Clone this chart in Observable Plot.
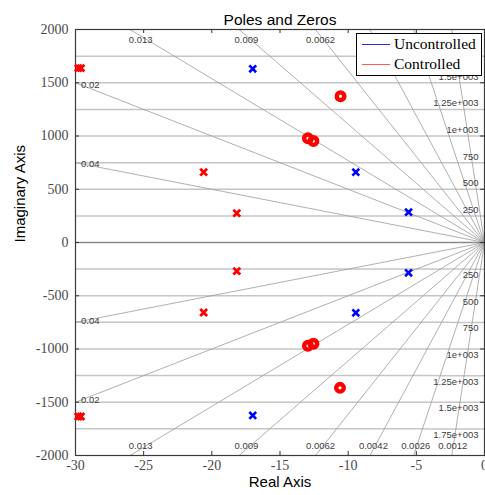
<!DOCTYPE html>
<html><head><meta charset="utf-8">
<script src="https://cdn.jsdelivr.net/npm/d3@7"></script>
<script src="https://cdn.jsdelivr.net/npm/@observablehq/plot@0.6"></script>
<style>
body{margin:0;background:#fff;}
#wrap{position:relative;width:485px;height:495px;overflow:hidden;}
#legend{position:absolute;left:356px;top:33px;width:124px;height:41px;border:1.5px solid #000;background:#fff;
 font-family:"Liberation Serif","Times New Roman",serif;font-size:15.5px;color:#000;}
#legend .ln{position:absolute;left:5px;width:28px;height:1.3px;}
#legend .tx{position:absolute;left:37px;line-height:18px;white-space:nowrap;}
</style></head>
<body><div id="wrap"></div>
<script>
const title = "Poles and Zeros";
const xLabel = "Real Axis";
const yLabel = "Imaginary Axis";
const xTicks = [-30, -25, -20, -15, -10, -5, 0];
const yTicks = [-2000, -1500, -1000, -500, 0, 500, 1000, 1500, 2000];
const seriesNames = ["Uncontrolled", "Controlled"];
const seriesColors = ["#0000ff", "#ff0000"];

// Uncontrolled poles (blue x)
const uncPolesRe = [-17.0, -17.0, -9.44, -9.44, -5.57, -5.57];
const uncPolesIm = [1631, -1624, 660, -660, 285, -285];
// Controlled poles (red x)
const ctlPolesRe = [-29.8, -29.6, -29.8, -29.6, -20.6, -20.6, -18.17, -18.17];
const ctlPolesIm = [1638, 1638, -1634, -1634, 660, -657, 275, -269];
// Controlled zeros (red o)
const ctlZerosRe = [-10.56, -12.95, -12.55, -12.95, -12.55, -10.6];
const ctlZerosIm = [1374, 978, 952, -970, -951, -1365];

// s-plane grid
const dampingValues = [0.0012, 0.0026, 0.0042, 0.0062, 0.009, 0.013, 0.02, 0.04];
const dampingLabels = ["0.0012", "0.0026", "0.0042", "0.0062", "0.009", "0.013", "0.02", "0.04"];
const wnValues = [250, 500, 750, 1000, 1250, 1500, 1750];
const wnLabels = ["250", "500", "750", "1e+003", "1.25e+003", "1.5e+003", "1.75e+003"];

const xDomain = [-30, 0], yDomain = [-2000, 2000];
const W = 485, H = 495, mL = 75, mR = 1, mT = 29, mB = 40;
const frameW = W - mL - mR, frameH = H - mT - mB;
// legend box in pixels (labels fully under it are hidden, as in the reference)
const legBox = {left: 356, top: 33, right: 482, bottom: 77};
const xs = d3.scaleLinear(xDomain, [mL, W - mR]);
const ys = d3.scaleLinear(yDomain, [H - mB, mT]);
const hidden = (x, y) => {
  const px = xs(x), py = ys(y);
  return px > legBox.left - 2 && px < legBox.right + 8 && py > legBox.top && py < legBox.bottom - 6;
};

// damping rays
const rays = [];
dampingValues.forEach(z => {
  const R = 5000, s = Math.sqrt(1 - z * z);
  rays.push({x2: -z * R, y2: s * R});
  rays.push({x2: -z * R, y2: -s * R});
});
// natural frequency arcs
const arcs = [];
wnValues.forEach(w => {
  [1, -1].forEach(sg => {
    for (let i = 0; i <= 30; i++) {
      const x = -30 + i;
      arcs.push({key: w + "_" + sg, x, y: sg * Math.sqrt(w * w - x * x)});
    }
  });
});
// damping labels
const dLab = [];
dampingValues.forEach((z, i) => {
  const s = Math.sqrt(1 - z * z);
  const yLeft = 30 * s / z;
  [1, -1].forEach(sg => {
    if (yLeft < 1900) {
      const xl = -29.6;
      dLab.push({x: xl, y: sg * (-xl) * s / z, t: dampingLabels[i], la: "middle"});
    } else {
      const yl = 1940;
      dLab.push({x: -z * yl / s, y: sg * yl, t: dampingLabels[i], la: sg > 0 ? "top" : "bottom"});
    }
  });
});
const dLabVis = dLab.filter(d => !hidden(d.x, d.la === "top" ? 1860 : d.y));
const wLabPos = wnValues.map((w, i) => ({y: w, t: wnLabels[i]})).filter(d => !hidden(-0.5, d.y + 60));
const wLabNeg = wnValues.map((w, i) => ({y: -w, t: wnLabels[i]}));

const uncPoles = uncPolesRe.map((x, i) => ({x, y: uncPolesIm[i]}));
const ctlPoles = ctlPolesRe.map((x, i) => ({x, y: ctlPolesIm[i]}));
const ctlZeros = ctlZerosRe.map((x, i) => ({x, y: ctlZerosIm[i]}));

const sans = "Liberation Sans, Arial, sans-serif";
const serif = "Liberation Serif, Times New Roman, serif";
const gridLab = "#3c3c3c";
const fmt = d => String(d);

const chart = Plot.plot({
  width: W, height: H,
  marginLeft: mL, marginRight: mR, marginTop: mT, marginBottom: mB,
  style: {fontFamily: serif, background: "#fff", overflow: "visible"},
  x: {domain: xDomain, label: null},
  y: {domain: yDomain, label: null},
  marks: [
    Plot.line(arcs, {x: "x", y: "y", z: "key", stroke: "#c6c6c6", strokeWidth: 1.5, clip: true}),
    Plot.link(rays, {x1: 0, y1: 0, x2: "x2", y2: "y2", stroke: "#9c9c9c", strokeWidth: 0.8, clip: true}),
    Plot.ruleY([0], {stroke: "#8a8a8a", strokeWidth: 1.4}),
    Plot.text(wLabPos, {x: 0, y: "y", text: "t", dx: -6, dy: -6, textAnchor: "end", fontSize: 9.5, fontFamily: sans, fill: gridLab}),
    Plot.text(wLabNeg, {x: 0, y: "y", text: "t", dx: -6, dy: 6, textAnchor: "end", fontSize: 9.5, fontFamily: sans, fill: gridLab}),
    Plot.text(dLabVis.filter(d => d.la === "middle"), {x: "x", y: "y", text: "t", textAnchor: "start", lineAnchor: "middle", fontSize: 9.5, fontFamily: sans, fill: gridLab}),
    Plot.text(dLabVis.filter(d => d.la === "top"), {x: "x", y: "y", text: "t", textAnchor: "middle", lineAnchor: "top", fontSize: 9.5, fontFamily: sans, fill: gridLab}),
    Plot.text(dLabVis.filter(d => d.la === "bottom"), {x: "x", y: "y", text: "t", textAnchor: "middle", lineAnchor: "bottom", fontSize: 9.5, fontFamily: sans, fill: gridLab}),
    Plot.axisX(xTicks, {tickSize: 0, tickPadding: 5, tickFormat: fmt, fontSize: 14, fontFamily: serif, color: "#4a4a4a", label: null}),
    Plot.axisY(yTicks, {tickSize: 0, tickPadding: 7, tickFormat: fmt, fontSize: 14, fontFamily: serif, color: "#4a4a4a", label: null}),
    Plot.tickX(xTicks, {x: d => d, insetTop: frameH - 4, stroke: "#333"}),
    Plot.tickX(xTicks, {x: d => d, insetBottom: frameH - 4, stroke: "#333"}),
    Plot.tickY(yTicks, {y: d => d, insetRight: frameW - 4, stroke: "#333"}),
    Plot.tickY(yTicks, {y: d => d, insetLeft: frameW - 4, stroke: "#333"}),
    Plot.frame({stroke: "#3a3a3a", strokeWidth: 1.2}),
    Plot.dot(uncPoles, {x: "x", y: "y", symbol: "times", r: 3.2, stroke: seriesColors[0], strokeWidth: 2.6}),
    Plot.dot(ctlPoles, {x: "x", y: "y", symbol: "times", r: 3.2, stroke: seriesColors[1], strokeWidth: 2.8}),
    Plot.dot(ctlZeros, {x: "x", y: "y", symbol: "circle", r: 3.8, fill: "none", stroke: seriesColors[1], strokeWidth: 4.4}),
    Plot.text([title], {frameAnchor: "top", dy: -16, fontSize: 15.5, fontFamily: sans, fill: "#000"}),
    Plot.text([xLabel], {frameAnchor: "bottom", dy: 31, fontSize: 15, fontFamily: sans, fill: "#000"}),
    Plot.text([yLabel], {frameAnchor: "left", dx: -55, rotate: -90, fontSize: 15, fontFamily: sans, fill: "#000"})
  ]
});
const wrap = document.getElementById("wrap");
wrap.appendChild(chart);

// legend
const leg = document.createElement("div");
leg.id = "legend";
const legColors = ["#2a2aff", "#ff5a5a"];
seriesNames.forEach((n, i) => {
  const ln = document.createElement("div");
  ln.className = "ln";
  ln.style.top = (10 + i * 20) + "px";
  ln.style.background = legColors[i];
  const tx = document.createElement("div");
  tx.className = "tx";
  tx.style.top = (1 + i * 20) + "px";
  tx.textContent = n;
  leg.appendChild(ln); leg.appendChild(tx);
});
wrap.appendChild(leg);
</script>
</body></html>
